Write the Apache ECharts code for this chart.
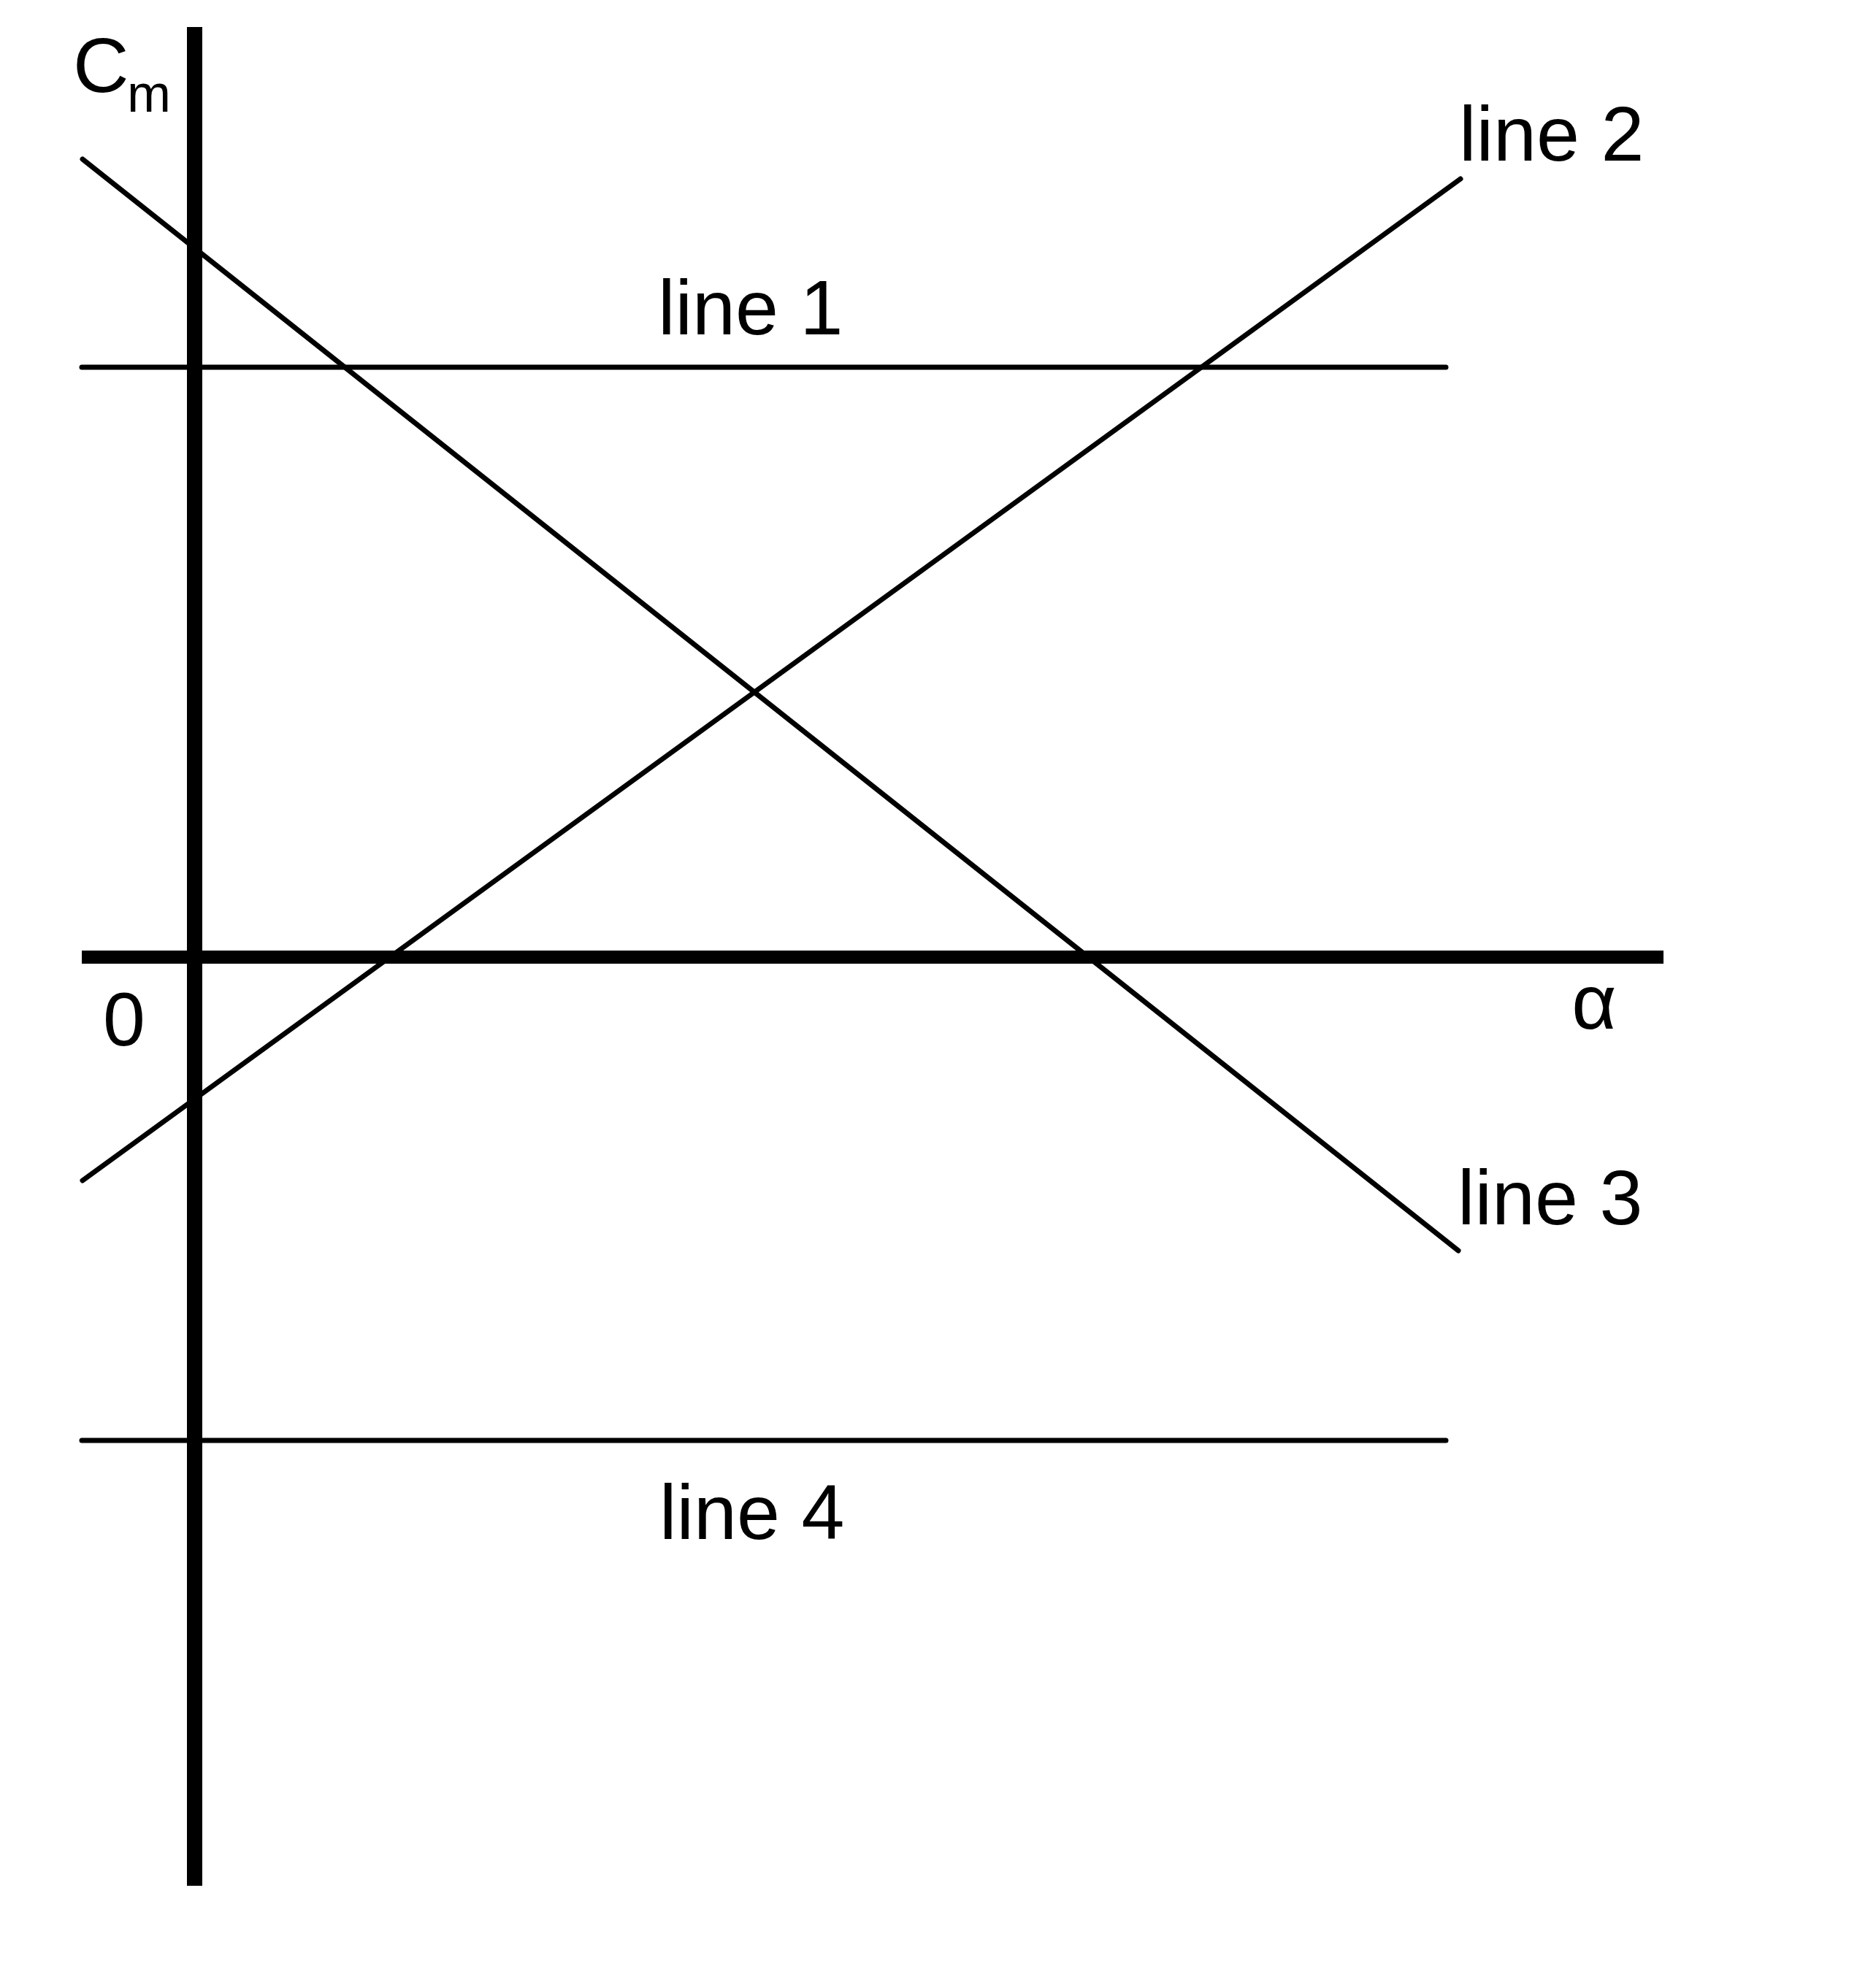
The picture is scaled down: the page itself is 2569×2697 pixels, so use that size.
<!DOCTYPE html>
<html>
<head>
<meta charset="utf-8">
<script src="https://cdn.jsdelivr.net/npm/echarts@6/dist/echarts.min.js"></script>
<style>
html,body{margin:0;padding:0;background:#fff;}
#chart{width:2569px;height:2697px;}
</style>
</head>
<body>
<div id="chart"></div>
<script>
// Schematic data (units: arbitrary, origin at axis crossing)
var line1 = [[-1.54, 8.08], [17.14, 8.08]];
var line2 = [[-1.53, -3.06], [17.34, 10.66]];
var line3 = [[-1.53, 10.93], [17.31, -4.02]];
var line4 = [[-1.54, -6.62], [17.14, -6.62]];
var xRange = [-1.54, 20.12];
var yRange = [-12.72, 12.74];
var lineNames = ['line 1', 'line 2', 'line 3', 'line 4'];
var xAxisName = 'α';
var yAxisName = ['C', 'm'];
var originLabel = '0';

var chart = echarts.init(document.getElementById('chart'), null, {renderer: 'canvas'});
var FONT = '"Liberation Sans", Arial, sans-serif';
function mkLine(name, data) {
  return {
    name: name, type: 'line', data: data, symbol: 'none', clip: false,
    lineStyle: {color: '#000', width: 7, cap: 'round'}, silent: true
  };
}
function txt(t, x, y, size, align) {
  return {
    type: 'text', x: x, y: y, silent: true,
    style: {text: t, fill: '#000', font: 'normal ' + size + 'px ' + FONT,
            align: align || 'left', verticalAlign: 'middle'}
  };
}
chart.setOption({
  animation: false,
  backgroundColor: '#fff',
  grid: {left: 112, top: 37, width: 2166, height: 2546},
  xAxis: {
    type: 'value', min: xRange[0], max: xRange[1],
    axisLine: {show: true, onZero: true, lineStyle: {color: '#000', width: 18, cap: 'butt'}},
    axisTick: {show: false}, axisLabel: {show: false}, splitLine: {show: false}
  },
  yAxis: {
    type: 'value', min: yRange[0], max: yRange[1],
    axisLine: {show: true, onZero: true, lineStyle: {color: '#000', width: 21, cap: 'butt'}},
    axisTick: {show: false}, axisLabel: {show: false}, splitLine: {show: false}
  },
  series: [
    mkLine(lineNames[0], line1),
    mkLine(lineNames[1], line2),
    mkLine(lineNames[2], line3),
    mkLine(lineNames[3], line4)
  ],
  graphic: [
    txt(lineNames[0], 901, 429, 106),
    txt(lineNames[1], 1998, 191, 106),
    txt(lineNames[2], 1996, 1648, 106),
    txt(lineNames[3], 903, 2079, 106),
    txt(originLabel, 170, 1403, 104, 'center'),
    txt(xAxisName, 2183, 1380, 106, 'center'),
    txt(yAxisName[0], 100, 97, 106),
    txt(yAxisName[1], 174, 133, 72)
  ]
});
</script>
</body>
</html>
